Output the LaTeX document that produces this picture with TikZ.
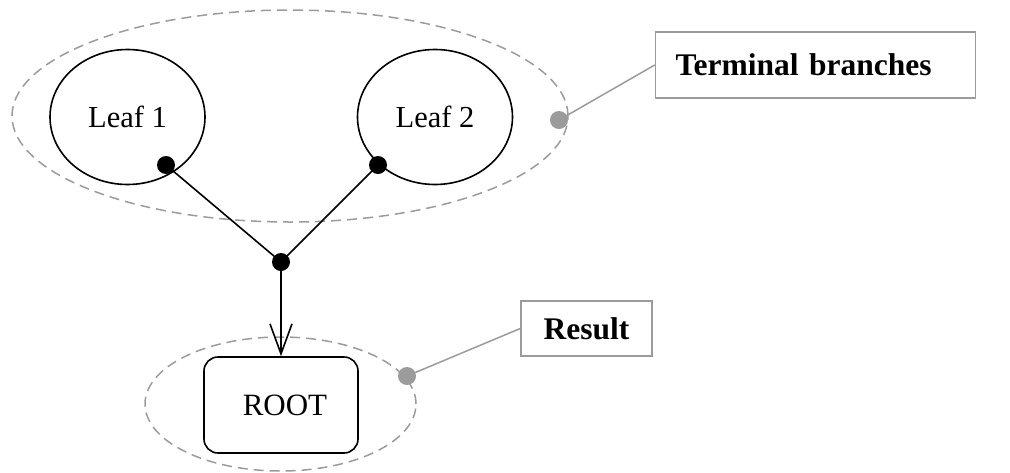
\documentclass[tikz,border=0pt]{standalone}
\usepackage{fontspec}
\setmainfont{Liberation Serif}
\usepackage{tikz}
\usetikzlibrary{shapes,arrows.meta}
\definecolor{callgray}{RGB}{155,155,155}

\tikzset{
leaf/.style={draw,ellipse,line width=1.6pt,minimum width=155pt,minimum height=135pt,inner sep=0pt,font=\fontsize{30.5}{36}\selectfont},
rootbox/.style={draw,rectangle,rounded corners=14pt,line width=1.6pt,minimum width=154pt,minimum height=96pt,inner sep=0pt,font=\fontsize{31}{36}\selectfont},
group/.style={draw=callgray,ellipse,dash pattern=on 10pt off 6pt,line width=1.5pt,inner sep=0pt},
joint/.style={circle,fill=black,minimum size=18pt,inner sep=0pt},
pin/.style={circle,fill=callgray,minimum size=18pt,inner sep=0pt},
note/.style={draw=callgray,rectangle,line width=1.5pt,inner sep=0pt,font=\bfseries\fontsize{31.5}{36}\selectfont},
callout/.style={draw=callgray,line width=1.5pt}
}

\begin{document}
\begin{tikzpicture}[x=1pt,y=-1pt]
\useasboundingbox (0,0) rectangle (1010,472);

\node[group,minimum width=556pt,minimum height=212pt] (grpTop) at (290,116) {};
\node[group,minimum width=271pt,minimum height=134pt] (grpRoot) at (280.5,404) {};
\node[leaf] (leafA) at (127.5,117) {Leaf 1};
\node[leaf] (leafB) at (435,117) {Leaf 2};
\node[rootbox] (root) at (281,405) {\hspace{8pt}ROOT};
\node[note,minimum height=66pt,text width=280pt,align=left,inner xsep=20pt] (noteTop) at (815.5,65) {Terminal branches};
\node[note,minimum width=131pt,minimum height=55pt] (noteRoot) at (586.5,328.5) {Result};

\draw[callout] (559,120) -- (noteTop.west);
\draw[callout] (407,376) -- (noteRoot.west);
\node[pin] (pinTop) at (559,120) {};
\node[pin] (pinRoot) at (407,376) {};

\node[joint] (jA) at (166,165) {};
\node[joint] (jB) at (378,165) {};
\node[joint] (jC) at (281,262) {};
\draw[line width=1.6pt] (jA.center) -- (jC.center);
\draw[line width=1.6pt] (jB.center) -- (jC.center);
\draw[line width=1.6pt,-{Straight Barb[length=30pt,width=22pt,line width=1.6pt]}] (jC.center) -- (root.north);

\end{tikzpicture}
\end{document}
